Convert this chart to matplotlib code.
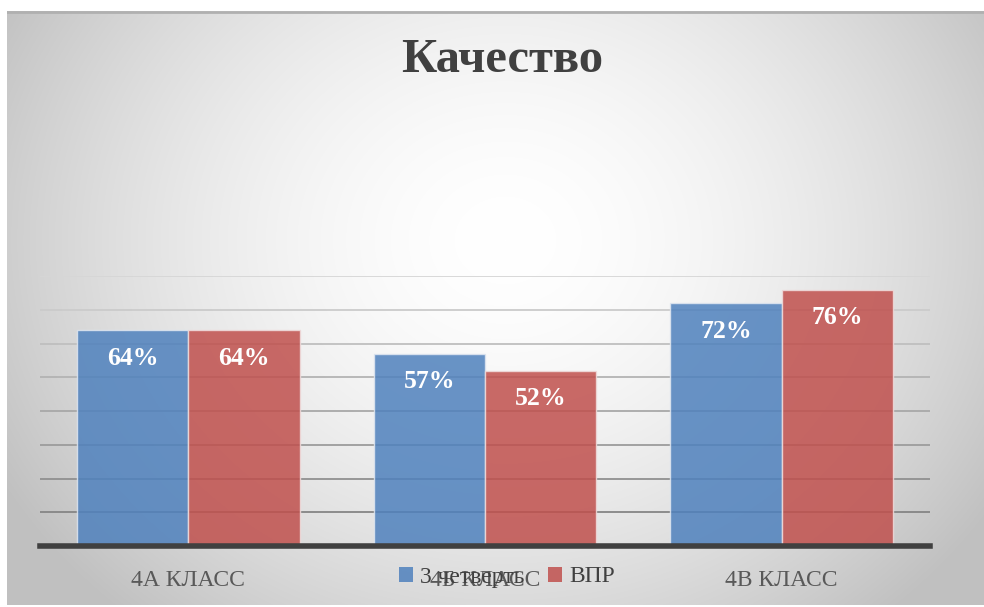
import numpy as np
import matplotlib
matplotlib.use('Agg')
import matplotlib.pyplot as plt
from matplotlib.patches import Patch

plt.rcParams['font.family'] = ['Liberation Serif', 'DejaVu Serif']

categories = ['4А КЛАСС', '4Б КЛАСС', '4В КЛАСС']
series_names = ['3 четверть', 'ВПР']
quarter3 = [0.64, 0.57, 0.72]
vpr = [0.64, 0.52, 0.76]
colors = ['#4F81BD', '#C0504D']

W, H = 984, 607
fig = plt.figure(figsize=(W / 100, H / 100), dpi=100)
fig.patch.set_facecolor('white')

# radial gradient background for the chart frame
fx0, fy0, fx1, fy1 = 7, 11, 984, 605
bg = fig.add_axes([fx0 / W, 1 - fy1 / H, (fx1 - fx0) / W, (fy1 - fy0) / H])
yy, xx = np.mgrid[fy0:fy1, fx0:fx1]
d = np.sqrt(((xx - 505) / 580.0) ** 2 + ((yy - 240) / 500.0) ** 2)
shade = 255 - 63 * np.clip(d, 0, 1) ** 1.7
img = np.dstack([shade, shade, shade]) / 255.0
bg.imshow(img, aspect='auto', interpolation='bilinear')
bg.axhline(0, color='#b0b0b0', lw=2)
bg.set_axis_off()

# main axes
ax_l, ax_r, ax_top, ax_bot = 40, 930, 276, 546
ax = fig.add_axes([ax_l / W, 1 - ax_bot / H, (ax_r - ax_l) / W, (ax_bot - ax_top) / H])
ax.patch.set_alpha(0)

x = np.arange(len(categories))
w = 0.375
b1 = ax.bar(x - w / 2, quarter3, w, color=colors[0], alpha=0.85,
            edgecolor='#dfe6f0', linewidth=1, zorder=3)
b2 = ax.bar(x + w / 2, vpr, w, color=colors[1], alpha=0.85,
            edgecolor='#efdcdc', linewidth=1, zorder=3)

for bars, vals in ((b1, quarter3), (b2, vpr)):
    for rect, v in zip(bars, vals):
        ax.annotate(f'{round(v * 100)}%', (rect.get_x() + rect.get_width() / 2, v),
                    xytext=(0, -28), textcoords='offset pixels',
                    ha='center', va='center', color='white',
                    fontsize=18.5, fontweight='bold', zorder=5)

ax.set_xlim(-0.5, 2.5)
ax.set_ylim(0, 0.801)
ax.set_yticks(np.arange(0.1, 0.81, 0.1))
ax.tick_params(axis='y', left=False, labelleft=False)
ax.tick_params(axis='x', bottom=False, labelsize=17, labelcolor='#595959', pad=14)
ax.set_xticks(x)
ax.set_xticklabels(categories)
ax.yaxis.grid(True, zorder=1)
glines = ax.get_ygridlines()
n = len(glines)
for i, gl in enumerate(glines):
    t = i / (n - 1)
    c = 0.52 + (0.84 - 0.52) * t
    gl.set_color((c, c, c))
    gl.set_linewidth(1.3)
for s in ['left', 'right', 'top']:
    ax.spines[s].set_visible(False)
ax.spines['bottom'].set_color('#404040')
ax.spines['bottom'].set_linewidth(4)
ax.spines['bottom'].set_zorder(4)

fig.text(502 / W, 1 - 60 / H, 'Качество', ha='center', va='center',
         fontsize=35, fontweight='bold', color='#404040')

handles = [Patch(facecolor=c, alpha=0.85) for c in colors]
fig.legend(handles, series_names, loc='center', bbox_to_anchor=(507 / W, 1 - 577 / H),
           ncol=2, frameon=False, fontsize=17, labelcolor='#404040',
           handlelength=0.6, handleheight=0.6, handletextpad=0.3, columnspacing=1.0)

fig.savefig('out.png', dpi=100)
